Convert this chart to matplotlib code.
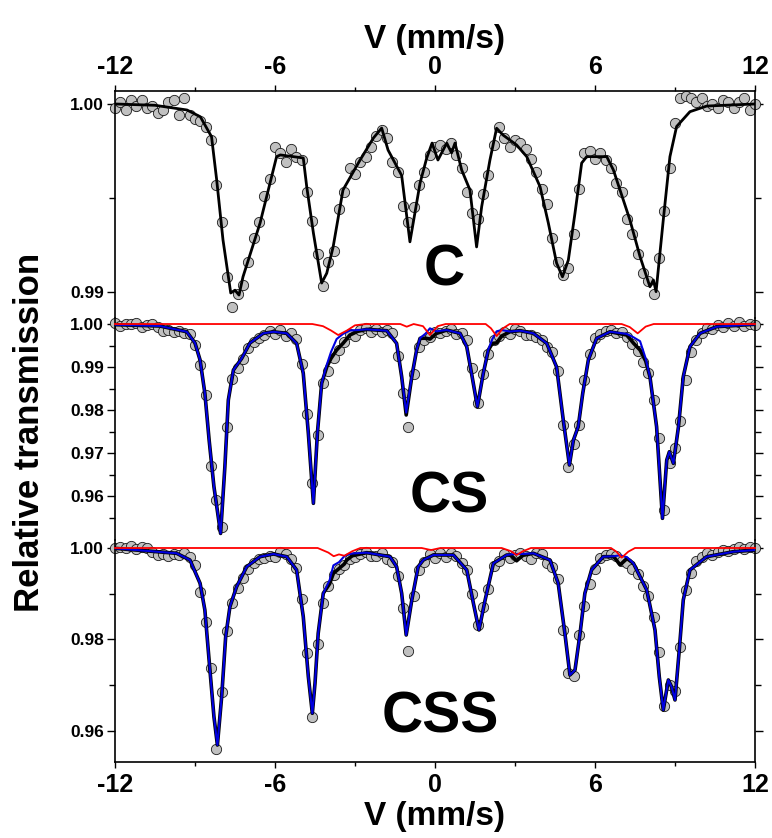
import numpy as np
import matplotlib
matplotlib.use("Agg")
import matplotlib.pyplot as plt
from matplotlib.ticker import FixedLocator, FormatStrFormatter

plt.rcParams['font.family'] = ['Liberation Sans', 'DejaVu Sans']
plt.rcParams['font.weight'] = 'bold'
plt.rcParams['axes.unicode_minus'] = False

# channel velocities of the measured points (mm/s)
v_pts = np.round(np.arange(-12.0, 12.01, 0.2), 2)

# ---- sample C: measured points ----
c_pts = [0.9998, 1.0001, 0.9997, 1.0002, 0.9999, 1.0002, 0.9998, 0.9999, 0.9995, 0.9997,
         1.0001, 1.0002, 0.9994, 1.0003, 0.9994, 0.9992, 0.9991, 0.9988, 0.9981, 0.9957,
         0.9937, 0.9908, 0.9892, 0.9899, 0.9904, 0.9916, 0.9929, 0.9937, 0.9951, 0.9960,
         0.9977, 0.9974, 0.9969, 0.9976, 0.9972, 0.9970, 0.9953, 0.9938, 0.9920, 0.9903,
         0.9916, 0.9922, 0.9944, 0.9953, 0.9966, 0.9963, 0.9969, 0.9972, 0.9977, 0.9983,
         0.9986, 0.9982, 0.9969, 0.9964, 0.9946, 0.9937, 0.9945, 0.9957, 0.9964, 0.9973,
         0.9977, 0.9978, 0.9976, 0.9979, 0.9973, 0.9966, 0.9953, 0.9942, 0.9939, 0.9952,
         0.9962, 0.9978, 0.9988, 0.9982, 0.9977, 0.9981, 0.9979, 0.9976, 0.9971, 0.9964,
         0.9955, 0.9947, 0.9929, 0.9916, 0.9909, 0.9913, 0.9931, 0.9955, 0.9974, 0.9975,
         0.9971, 0.9974, 0.9970, 0.9966, 0.9958, 0.9953, 0.9939, 0.9931, 0.9920, 0.9910,
         0.9906, 0.9899, 0.9918, 0.9943, 0.9966, 0.9990, 1.0003, 1.0004, 1.0003, 1.0001,
         1.0003, 0.9999, 1.0000, 0.9998, 1.0002, 1.0001, 0.9998, 1.0001, 1.0003, 0.9997,
         1.0000]

# sample C: fitted curve
c_fit_v = [-12, -10.5, -9.3, -8.8, -8.38, -8.19, -7.95, -7.66, -7.5, -7.35, -7.2, -6.56,
           -5.94, -5.8, -4.94, -4.81, -4.56, -4.25, -4.06, -3.82, -3.45, -2.81, -2.31, -2.0,
           -1.76, -1.25, -0.94, -0.56, -0.31, -0.11, 0.11, 0.44, 0.62, 0.75, 1.0, 1.31,
           1.56, 1.75, 2.06, 2.31, 2.55, 3.06, 3.44, 3.94, 4.25, 4.56, 4.78, 5.0, 5.25,
           5.5, 5.69, 6.44, 6.69, 7.31, 7.69, 8.06, 8.19, 8.29, 8.56, 8.81, 9.06, 9.56,
           10.19, 12]
c_fit = [1.0000, 0.99993, 0.99968, 0.99932, 0.99826, 0.9960, 0.99277, 0.98995, 0.9901,
         0.98984, 0.99081, 0.99367, 0.9972, 0.99729, 0.99713, 0.9956, 0.99314, 0.99048,
         0.9910, 0.9924, 0.99543, 0.99702, 0.99819, 0.99872, 0.99755, 0.9962, 0.99267,
         0.9958, 0.99713, 0.99792, 0.99702, 0.99792, 0.9974, 0.99792, 0.99649, 0.99543,
         0.9924, 0.99454, 0.99702, 0.99871, 0.99835, 0.99782, 0.9972, 0.9956, 0.99367,
         0.99154, 0.99081, 0.9917, 0.9942, 0.99686, 0.9972, 0.9972, 0.99649, 0.99383,
         0.99188, 0.99028, 0.99064, 0.99002, 0.99383, 0.9972, 0.9988, 0.99959, 0.99989,
         1.0000]

# ---- sample CS: measured points ----
cs_pts = [1.0002, 0.9996, 1.0001, 0.9999, 1.0003, 0.9994, 0.9998, 1.0001, 0.9992, 0.9983,
          0.9987, 0.9981, 0.9984, 0.9979, 0.9977, 0.9951, 0.9904, 0.9834, 0.9670, 0.9591,
          0.9529, 0.9761, 0.9871, 0.9898, 0.9918, 0.9944, 0.9958, 0.9968, 0.9975, 0.9983,
          0.9977, 0.9985, 0.9973, 0.9978, 0.9966, 0.9906, 0.9790, 0.9630, 0.9741, 0.9862,
          0.9890, 0.9922, 0.9940, 0.9958, 0.9977, 0.9971, 0.9986, 0.9991, 0.9982, 0.9989,
          0.9981, 0.9987, 0.9979, 0.9925, 0.9840, 0.9760, 0.9883, 0.9947, 0.9962, 0.9969,
          0.9981, 0.9978, 0.9983, 0.9989, 0.9976, 0.9980, 0.9962, 0.9898, 0.9816, 0.9883,
          0.9930, 0.9962, 0.9971, 0.9981, 0.9976, 0.9988, 0.9983, 0.9974, 0.9975, 0.9969,
          0.9962, 0.9946, 0.9935, 0.9890, 0.9766, 0.9668, 0.9722, 0.9764, 0.9870, 0.9930,
          0.9968, 0.9976, 0.9983, 0.9986, 0.9979, 0.9981, 0.9970, 0.9954, 0.9938, 0.9912,
          0.9885, 0.9823, 0.9735, 0.9568, 0.9676, 0.9712, 0.9775, 0.9870, 0.9935, 0.9962,
          0.9980, 0.9991, 0.9989, 0.9998, 0.9992, 1.0002, 0.9995, 1.0004, 0.9996, 1.0001,
          0.9997]

# sample CS: total fit (black) and main component (blue) on the same velocities
cs_fit_v = [-12.0, -10.31, -9.31, -9.0, -8.81, -8.63, -8.47, -8.29, -8.04, -7.88, -7.75,
            -7.56, -7.25, -6.94, -6.44, -6.06, -5.56, -5.19, -4.94, -4.75, -4.56, -4.41,
            -4.25, -4.06, -3.9, -3.69, -3.45, -3.19, -2.9, -2.56, -1.81, -1.44, -1.25,
            -1.08, -0.87, -0.69, -0.56, -0.35, -0.19, 0.05, 0.44, 0.94, 1.19, 1.37, 1.59,
            1.81, 2.0, 2.15, 2.31, 2.5, 2.81, 3.19, 3.69, 4.19, 4.56, 4.81, 5.04, 5.19,
            5.37, 5.54, 5.75, 6.06, 6.56, 7.19, 7.45, 7.69, 7.9, 8.06, 8.31, 8.53, 8.69,
            8.79, 8.94, 9.13, 9.31, 9.56, 9.94, 10.56, 12.0]
cs_fit = [0.99985, 0.99953, 0.9982, 0.99558, 0.99163, 0.9839, 0.9730, 0.96217, 0.9513,
          0.9668, 0.98233, 0.9893, 0.9920, 0.99558, 0.99783, 0.9982, 0.99783, 0.99551,
          0.98853, 0.9746, 0.9583, 0.9746, 0.98621, 0.9900, 0.9920, 0.99395, 0.9955,
          0.99744, 0.9983, 0.99876, 0.99845, 0.99551, 0.98775, 0.97884, 0.98775, 0.99395,
          0.99667, 0.9967, 0.9965, 0.9978, 0.9986, 0.99783, 0.99473, 0.98853, 0.98077,
          0.98853, 0.99395, 0.9955, 0.9956, 0.9972, 0.9982, 0.99845, 0.99783, 0.99551,
          0.9900, 0.97767, 0.96721, 0.9730, 0.97612, 0.98388, 0.99163, 0.99667, 0.9982,
          0.99744, 0.9955, 0.99395, 0.9914, 0.98775, 0.97612, 0.95481, 0.96837, 0.9703,
          0.9676, 0.97612, 0.98775, 0.99473, 0.99783, 0.99938, 0.99993]
cs_sub = [0.99985, 0.99953, 0.9982, 0.99558, 0.99163, 0.9839, 0.9730, 0.96217, 0.9513,
          0.9668, 0.98233, 0.9893, 0.9920, 0.99558, 0.99783, 0.9982, 0.99783, 0.99551,
          0.98853, 0.9746, 0.9583, 0.9746, 0.98621, 0.9905, 0.9935, 0.9965, 0.9977,
          0.9985, 0.9986, 0.99876, 0.99845, 0.99551, 0.98775, 0.9794, 0.98775, 0.99395,
          0.99672, 0.9978, 0.9990, 0.9983, 0.9986, 0.99783, 0.99473, 0.98853, 0.98077,
          0.98853, 0.9941, 0.9965, 0.9983, 0.9986, 0.99825, 0.99845, 0.99783, 0.99551,
          0.9900, 0.97767, 0.96721, 0.9730, 0.97612, 0.98388, 0.99163, 0.99667, 0.9982,
          0.9977, 0.9969, 0.9960, 0.9920, 0.98775, 0.97612, 0.95481, 0.96837, 0.9703,
          0.9676, 0.97612, 0.98775, 0.99473, 0.99783, 0.99938, 0.99993]

# sample CS: minor component (red)
cs_red_v = [-12, -4.6, -4.2, -3.9, -3.63, -3.3, -3.0, -2.6, -1.3, -1.06, -0.8, -0.45, -0.19,
            0.1, 0.4, 1.9, 2.1, 2.31, 2.55, 2.8, 7.0, 7.3, 7.6, 7.9, 8.2, 12]
cs_red = [1.0, 1.0, 0.9995, 0.9985, 0.99744, 0.9985, 0.9997, 1.0, 1.0, 0.99938, 1.0,
          0.9995, 0.99744, 0.9995, 1.0, 1.0, 0.9990, 0.9972, 0.9990, 1.0, 1.0, 0.9993,
          0.99783, 0.9994, 1.0, 1.0]

# ---- sample CSS: measured points ----
css_pts = [0.9999, 1.0003, 1.0001, 1.0004, 0.9997, 1.0002, 1.0000, 0.9992, 0.9984, 0.9986,
           0.9983, 0.9987, 0.9984, 0.9988, 0.9980, 0.9962, 0.9904, 0.9838, 0.9737, 0.9560,
           0.9684, 0.9818, 0.9880, 0.9912, 0.9935, 0.9955, 0.9968, 0.9977, 0.9978, 0.9982,
           0.9980, 0.9991, 0.9987, 0.9975, 0.9957, 0.9888, 0.9770, 0.9630, 0.9791, 0.9880,
           0.9916, 0.9940, 0.9955, 0.9962, 0.9976, 0.9980, 0.9987, 0.9992, 0.9983, 0.9983,
           0.9988, 0.9977, 0.9970, 0.9938, 0.9868, 0.9774, 0.9895, 0.9952, 0.9970, 0.9986,
           0.9979, 0.9990, 0.9981, 0.9988, 0.9983, 0.9968, 0.9951, 0.9900, 0.9831, 0.9870,
           0.9910, 0.9960, 0.9972, 0.9986, 0.9979, 0.9985, 0.9988, 0.9982, 0.9976, 0.9989,
           0.9986, 0.9968, 0.9958, 0.9932, 0.9821, 0.9727, 0.9720, 0.9810, 0.9874, 0.9922,
           0.9954, 0.9978, 0.9985, 0.9986, 0.9983, 0.9971, 0.9968, 0.9955, 0.9944, 0.9917,
           0.9895, 0.9848, 0.9772, 0.9654, 0.9700, 0.9688, 0.9784, 0.9908, 0.9945, 0.9972,
           0.9981, 0.9988, 0.9984, 0.9992, 0.9996, 0.9993, 0.9998, 1.0003, 0.9997, 1.0002,
           0.9999]

# sample CSS: total fit (black) and main component (blue)
css_fit_v = [-12.0, -9.69, -9.19, -8.81, -8.63, -8.44, -8.29, -8.16, -8.0, -7.85, -7.69,
             -7.44, -7.06, -6.56, -6.06, -5.56, -5.19, -4.94, -4.75, -4.6, -4.5, -4.38,
             -4.19, -3.95, -3.81, -3.6, -3.4, -3.31, -3.1, -2.56, -1.69, -1.44, -1.25,
             -1.08, -0.87, -0.63, -0.44, -0.06, 0.69, 1.19, 1.44, 1.65, 1.88, 2.19, 2.69,
             2.85, 3.06, 3.3, 3.69, 4.31, 4.62, 4.87, 5.06, 5.25, 5.44, 5.62, 5.87, 6.31,
             6.7, 6.94, 7.2, 7.44, 7.94, 8.25, 8.41, 8.56, 8.75, 8.87, 9.0, 9.16, 9.31,
             9.56, 10.19, 11.19, 12.0]
css_fit = [0.99993, 0.99884, 0.99737, 0.99227, 0.98643, 0.9733, 0.96309, 0.95689, 0.96746,
           0.98059, 0.98716, 0.99153, 0.99591, 0.9981, 0.99869, 0.9981, 0.99519, 0.98497,
           0.97184, 0.96383, 0.97039, 0.98133, 0.99009, 0.9922, 0.99446, 0.9955, 0.9965,
           0.99737, 0.9983, 0.99898, 0.9981, 0.99591, 0.99009, 0.98096, 0.98862, 0.99591,
           0.99737, 0.99847, 0.99847, 0.99519, 0.9879, 0.98206, 0.98862, 0.99665, 0.99847,
           0.9984, 0.9972, 0.9984, 0.99884, 0.99737, 0.99227, 0.98133, 0.97221, 0.9733,
           0.98133, 0.99009, 0.99519, 0.9981, 0.9981, 0.9963, 0.9977, 0.99665, 0.99081,
           0.98206, 0.97184, 0.96455, 0.97112, 0.96965, 0.96674, 0.97768, 0.98862, 0.99519,
           0.9981, 0.99919, 0.99956]
css_sub = [0.99993, 0.99884, 0.99737, 0.99227, 0.98643, 0.9733, 0.96309, 0.95689, 0.96746,
           0.98059, 0.98716, 0.99153, 0.99591, 0.9981, 0.99869, 0.9981, 0.99519, 0.98497,
           0.97184, 0.96383, 0.97039, 0.98133, 0.99009, 0.9930, 0.9962, 0.9969, 0.9982,
           0.9985, 0.9988, 0.99898, 0.9981, 0.99591, 0.99009, 0.98096, 0.98862, 0.99591,
           0.99737, 0.99847, 0.99847, 0.99519, 0.9879, 0.98206, 0.98862, 0.99665, 0.99847,
           0.9986, 0.9987, 0.9987, 0.99884, 0.99737, 0.99227, 0.98133, 0.97221, 0.9733,
           0.98133, 0.99009, 0.99519, 0.9981, 0.9982, 0.9984, 0.9980, 0.99665, 0.99081,
           0.98206, 0.97184, 0.96455, 0.97112, 0.96965, 0.96674, 0.97768, 0.98862, 0.99519,
           0.9981, 0.99919, 0.99956]

# sample CSS: minor component (red)
css_red_v = [-12, -4.4, -4.0, -3.8, -3.6, -3.4, -3.1, -2.8, -0.5, -0.15, 0.2, 2.5, 2.85,
             3.06, 3.3, 3.6, 6.6, 6.8, 7.0, 7.25, 7.5, 12]
css_red = [1.0, 1.0, 0.9990, 0.9982, 0.9986, 0.9983, 0.9993, 1.0, 1.0, 0.99955, 1.0, 1.0,
           0.9993, 0.99847, 0.9993, 1.0, 1.0, 0.9992, 0.9979, 0.9992, 1.0, 1.0]

panel_names = ['C', 'CS', 'CSS']
panel_ylims = [(0.98862, 1.00069), (0.94977, 1.0014), (0.95317, 1.00175)]
panel_major = [[0.99, 1.00], [0.96, 0.97, 0.98, 0.99, 1.00], [0.96, 0.98, 1.00]]
panel_minor = [[0.995], [0.955, 0.965, 0.975, 0.985, 0.995], [0.97, 0.99]]
panel_label_pos = [(0.34, 0.99037), (0.52, 0.95605), (0.19, 0.95952)]
x_major = [-12, -6, 0, 6, 12]
x_minor = [-9, -3, 3, 9]

W, H = 772, 838
fig = plt.figure(figsize=(W / 100, H / 100), dpi=100)


def px_axes(top, bottom):
    return fig.add_axes([115 / W, 1 - bottom / H, 640 / W, (bottom - top) / H])


ax_c = px_axes(91, 318)
ax_cs = px_axes(318, 540)
ax_css = px_axes(540, 762)
axes = [ax_c, ax_cs, ax_css]

mk = dict(ls='none', marker='o', ms=7.4, mfc='#c0c0c0', mec='#1a1a1a', mew=0.6,
          clip_on=False, zorder=2)

ax_c.plot(v_pts, c_pts, **mk)
ax_c.plot(c_fit_v, c_fit, color='black', lw=2.0, zorder=3)

ax_cs.plot(v_pts, cs_pts, **mk)
ax_cs.plot(cs_fit_v, cs_fit, color='black', lw=2.6, zorder=3)
ax_cs.plot(cs_fit_v, cs_sub, color='#0000e0', lw=1.5, zorder=4)
ax_cs.plot(cs_red_v, cs_red, color='#ff0000', lw=1.3, zorder=5, clip_on=False)

ax_css.plot(v_pts, css_pts, **mk)
ax_css.plot(css_fit_v, css_fit, color='black', lw=2.6, zorder=3)
ax_css.plot(css_fit_v, css_sub, color='#0000e0', lw=1.5, zorder=4)
ax_css.plot(css_red_v, css_red, color='#ff0000', lw=1.3, zorder=5, clip_on=False)

for i, ax in enumerate(axes):
    ax.set_xlim(-12, 12)
    ax.set_ylim(*panel_ylims[i])
    ax.patch.set_visible(False)
    ax.yaxis.set_major_locator(FixedLocator(panel_major[i]))
    ax.yaxis.set_minor_locator(FixedLocator(panel_minor[i]))
    ax.yaxis.set_major_formatter(FormatStrFormatter('%.2f'))
    ax.tick_params(axis='y', which='both', direction='out', left=True, right=True,
                   labelsize=12.5, pad=2, width=1.0)
    ax.tick_params(axis='y', which='major', length=6)
    ax.tick_params(axis='y', which='minor', length=4)
    for lab in ax.get_yticklabels():
        lab.set_fontweight('bold')
    ax.xaxis.set_major_locator(FixedLocator(x_major))
    ax.xaxis.set_minor_locator(FixedLocator(x_minor))
    ax.tick_params(axis='x', which='both', top=False, bottom=False,
                   labeltop=False, labelbottom=False)
    for side in ['left', 'right', 'top', 'bottom']:
        ax.spines[side].set_linewidth(1.2)
    x0, y0 = panel_label_pos[i]
    ax.text(x0, y0, panel_names[i], ha='center', va='baseline', fontsize=41,
            fontweight='bold', zorder=6)

ax_c.spines['bottom'].set_visible(False)
ax_cs.spines['top'].set_visible(False)
ax_cs.spines['bottom'].set_visible(False)
ax_css.spines['top'].set_visible(False)

ax_c.tick_params(axis='x', which='both', top=True, labeltop=True, direction='out',
                 labelsize=18, width=1.0, pad=5)
ax_c.tick_params(axis='x', which='major', length=4)
ax_c.tick_params(axis='x', which='minor', length=3)
ax_c.xaxis.set_label_position('top')
ax_c.set_xlabel('V (mm/s)', fontsize=24, fontweight='bold', labelpad=5)

ax_css.tick_params(axis='x', which='both', bottom=True, labelbottom=True, direction='out',
                   labelsize=18, width=1.0, pad=4)
ax_css.tick_params(axis='x', which='major', length=4)
ax_css.tick_params(axis='x', which='minor', length=3)
ax_css.set_xlabel('V (mm/s)', fontsize=24, fontweight='bold', labelpad=3)

for ax in (ax_c, ax_css):
    for lab in ax.get_xticklabels():
        lab.set_fontweight('bold')

fig.text(30 / W, 1 - 432 / H, 'Relative transmission', rotation=90, ha='center',
         va='center', fontsize=25, fontweight='bold')

fig.savefig('out.png', dpi=100)
